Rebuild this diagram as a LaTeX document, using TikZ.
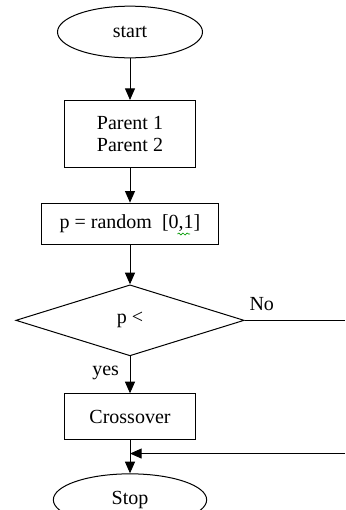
\documentclass[tikz,border=0pt]{standalone}
\usepackage{fontspec}
\setmainfont{Liberation Serif}
\usetikzlibrary{calc}
\usetikzlibrary{positioning}
\usetikzlibrary{arrows.meta}
\usetikzlibrary{shapes.geometric}
\usetikzlibrary{decorations.pathmorphing}
\def\thickness{semithick}
\tikzset{
terminal/.style 2 args={draw, ellipse, minimum width=#1, minimum height=#2, inner sep=0pt, \thickness},
process/.style 2 args={draw, rectangle, minimum width=#1, minimum height=#2, align=center, inner sep=2pt, \thickness},
decision/.style 2 args={draw, diamond, minimum width=#1, minimum height=#2, inner sep=0pt, \thickness},
flow/.style={-{Triangle[length=7pt,width=6pt]}, \thickness},
}

\begin{document}
\begin{tikzpicture}[font=\fontsize{12}{13.5}\selectfont]
\useasboundingbox (0,0) rectangle (207pt,-306pt);
%Place the nodes
\node[terminal={87pt}{31pt}] (start) at (78pt,-19.2pt) {start};
\node[process={79pt}{40pt}, below=25pt of start] (par) {Parent 1\\Parent 2};
\node[process={106pt}{25pt}, below=21pt of par] (rand) {p = random~~[0,1]};
\node[decision={137pt}{42.6pt}, below=23.4pt of rand] (dec) {p <};
\node[process={79pt}{27.6pt}, below=22.2pt of dec] (cross) {Crossover};
\node[terminal={92pt}{31.2pt}, below=19.8pt of cross] (stop) {Stop};

\coordinate (edge) at (207pt,0);
\coordinate (noend) at (dec.east -| edge);
\coordinate (join) at ($(cross.south)!0.4!(stop.north)$);
\coordinate (back) at (join -| edge);

%Connect them
\draw[flow] (start) -- (par);
\draw[flow] (par) -- (rand);
\draw[flow] (rand) -- (dec);
\draw[flow] (dec) -- node[left, xshift=-3pt, yshift=1pt] {yes} (cross);
\draw[flow] (cross) -- (stop);
\draw[\thickness] (dec.east) -- node[pos=0.17, above, yshift=2pt] {No} (noend);
\draw[flow] (back) -- (join);

% spell check mark
\draw[green!60!black, decorate, decoration={snake, amplitude=0.6pt, segment length=2.5pt}] ($(rand.center)+(28.5pt,-6pt)$) -- ($(rand.center)+(36pt,-6pt)$);

\end{tikzpicture}
\end{document}
